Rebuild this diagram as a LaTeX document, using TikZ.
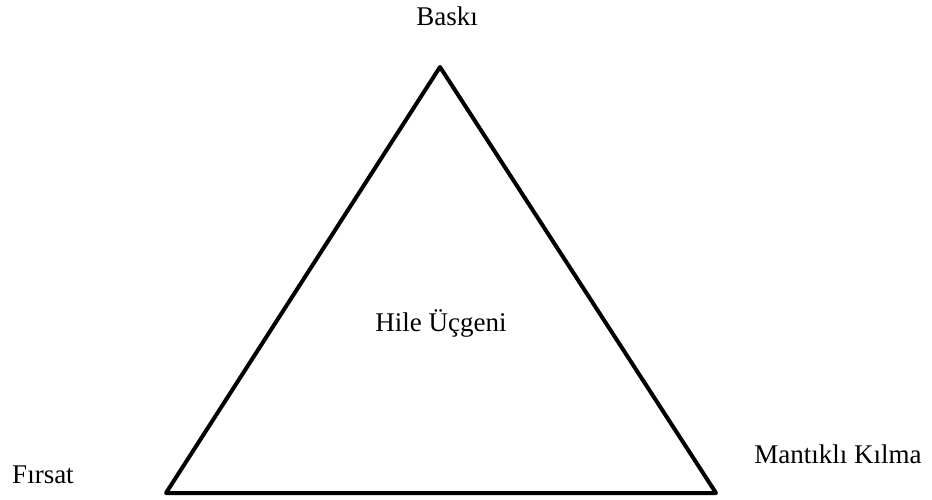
\documentclass[tikz,border=0pt]{standalone}
\usepackage{fontspec}
\setmainfont{Liberation Serif}
\begin{document}
\begin{tikzpicture}[x=1pt,y=-1pt,
  lbl/.style={anchor=base,inner sep=0pt,font=\fontsize{27}{31}\selectfont},
  tri/.style={line width=4pt,line join=round}]
\useasboundingbox (0,0) rectangle (932,500);
\coordinate (apex) at (440,67);
\coordinate (bl) at (166,493);
\coordinate (br) at (716,493);
\draw[tri] (apex) -- (bl) -- (br) -- cycle;
\node[lbl] (baski) at (447,26) {Baskı};
\node[lbl] (hile) at (441,331) {Hile Üçgeni};
\node[lbl] (firsat) at (43,483) {Fırsat};
\node[lbl] (mantik) at (838,463) {Mantıklı Kılma};
\end{tikzpicture}
\end{document}
